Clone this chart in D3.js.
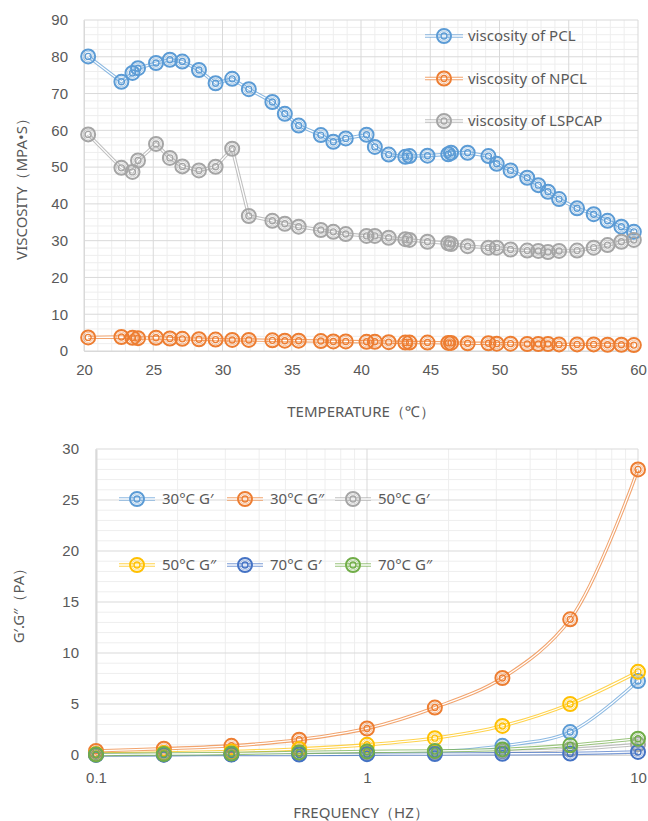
<!DOCTYPE html>
<html>
<head>
<meta charset="utf-8">
<script src="https://cdn.jsdelivr.net/npm/d3@7"></script>
<style>
	body { margin: 0; background: #fff; }
	svg { display: block; font-family: "Noto Sans", "Open Sans", sans-serif; }
	text { fill: #595959; }
</style>
</head>
<body>
<div id="chart"></div>
<script>
// top chart: viscosity vs temperature
const temps = [20.3, 22.7, 23.5, 23.9, 25.2, 26.2, 27.1, 28.3, 29.5, 30.7, 31.9, 33.6, 34.5, 35.5, 37.1, 38.0, 38.9, 40.4, 41.0, 42.0, 43.2, 43.5, 44.8, 46.3, 46.5, 47.7, 49.2, 49.8, 50.8, 52.0, 52.8, 53.5, 54.3, 55.6, 56.8, 57.8, 58.8, 59.7];
const viscPCL = [80.1, 73.2, 75.6, 76.9, 78.3, 79.2, 78.7, 76.4, 72.8, 74.0, 71.2, 67.7, 64.5, 61.3, 58.7, 56.9, 57.8, 58.8, 55.5, 53.4, 52.8, 53.0, 53.1, 53.5, 53.9, 53.9, 53.0, 50.9, 49.1, 47.1, 45.1, 43.3, 41.3, 38.8, 37.2, 35.4, 33.8, 32.4];
const viscNPCL = [3.7, 3.8, 3.6, 3.5, 3.6, 3.4, 3.3, 3.2, 3.1, 3.0, 3.0, 2.9, 2.8, 2.8, 2.7, 2.6, 2.6, 2.5, 2.5, 2.4, 2.3, 2.3, 2.3, 2.2, 2.2, 2.1, 2.1, 2.0, 2.0, 1.9, 1.9, 1.9, 1.8, 1.8, 1.8, 1.7, 1.7, 1.6];
const viscLSPCAP = [58.9, 49.8, 48.7, 51.8, 56.3, 52.5, 50.2, 49.1, 50.1, 55.0, 36.7, 35.4, 34.6, 33.8, 32.9, 32.4, 31.8, 31.3, 31.3, 30.8, 30.4, 30.2, 29.7, 29.3, 29.1, 28.5, 28.1, 28.1, 27.6, 27.3, 27.2, 26.9, 27.2, 27.3, 28.1, 28.8, 29.7, 30.2];
const topNames = ["viscosity of PCL", "viscosity of NPCL", "viscosity of LSPCAP"];
const topXTicks = [20, 25, 30, 35, 40, 45, 50, 55, 60];
const topYTicks = [0, 10, 20, 30, 40, 50, 60, 70, 80, 90];

// bottom chart: moduli vs frequency
const freqs = [0.1, 0.178, 0.316, 0.562, 1, 1.78, 3.16, 5.62, 10];
const g30p = [0.05, 0.06, 0.08, 0.1, 0.15, 0.3, 0.9, 2.25, 7.25];
const g30pp = [0.4, 0.62, 0.9, 1.5, 2.6, 4.65, 7.55, 13.3, 28.0];
const g50p = [0.03, 0.05, 0.08, 0.12, 0.2, 0.25, 0.35, 0.55, 1.05];
const g50pp = [0.1, 0.2, 0.35, 0.6, 1.0, 1.65, 2.85, 5.0, 8.15];
const g70p = [0.02, 0.03, 0.04, 0.05, 0.08, 0.1, 0.12, 0.15, 0.3];
const g70pp = [0.05, 0.1, 0.15, 0.25, 0.35, 0.4, 0.55, 0.95, 1.6];
const bottomNames = ["30°C G′", "30°C G″", "50°C G′", "50°C G″", "70°C G′", "70°C G″"];
const bottomXTicks = [0.1, 1, 10];
const bottomYTicks = [0, 5, 10, 15, 20, 25, 30];

const palette = ["#5B9BD5", "#ED7D31", "#A5A5A5", "#FFC000", "#4472C4", "#70AD47"];

const width = 648;
const height = 821;

const svg = d3.select("#chart")
	.append("svg")
	.attr("viewBox", `0 0 ${width} ${height}`)
	.attr("width", width)
	.attr("height", height);

// draws a double line like excel's compound line
const drawDouble = (layer, pathData, color) => {
	layer.append("path")
		.attr("d", pathData)
		.attr("fill", "none")
		.attr("stroke", color)
		.attr("stroke-opacity", 0.7)
		.attr("stroke-width", 3.4);
	layer.append("path")
		.attr("d", pathData)
		.attr("fill", "none")
		.attr("stroke", "#fff")
		.attr("stroke-width", 1.3);
};

// bullseye marker
const drawMarker = (layer, x, y, color) => {
	const g = layer.append("g").attr("transform", `translate(${x},${y})`);
	g.append("circle").attr("r", 7).attr("fill", "none").attr("stroke", color).attr("stroke-width", 2);
	g.append("circle").attr("r", 5).attr("fill", "none").attr("stroke", color).attr("stroke-width", 0.8).attr("stroke-opacity", 0.6);
	g.append("circle").attr("r", 3).attr("fill", "none").attr("stroke", color).attr("stroke-width", 1.4);
};

// ---------- top chart ----------
const topBox = { left: 84, right: 638, top: 20, bottom: 351 };

const xTop = d3.scaleLinear().domain([20, 60]).range([topBox.left, topBox.right]);
const yTop = d3.scaleLinear().domain([0, 90]).range([topBox.bottom, topBox.top]);

const topGrid = svg.append("g").attr("class", "grid");

// minor gridlines
topGrid.selectAll(".vminor")
	.data(d3.range(21, 60).filter((d) => d % 5 !== 0))
	.join("line")
	.attr("x1", (d) => xTop(d)).attr("x2", (d) => xTop(d))
	.attr("y1", topBox.top).attr("y2", topBox.bottom)
	.attr("stroke", "#eeeeee");
topGrid.selectAll(".hminor")
	.data(d3.range(2, 90, 2).filter((d) => d % 10 !== 0))
	.join("line")
	.attr("x1", topBox.left).attr("x2", topBox.right)
	.attr("y1", (d) => yTop(d)).attr("y2", (d) => yTop(d))
	.attr("stroke", "#eeeeee");

// major gridlines
topGrid.append("g")
	.selectAll("line")
	.data(topXTicks)
	.join("line")
	.attr("x1", (d) => xTop(d)).attr("x2", (d) => xTop(d))
	.attr("y1", topBox.top).attr("y2", topBox.bottom)
	.attr("stroke", "#d9d9d9");
topGrid.append("g")
	.selectAll("line")
	.data(topYTicks)
	.join("line")
	.attr("x1", topBox.left).attr("x2", topBox.right)
	.attr("y1", (d) => yTop(d)).attr("y2", (d) => yTop(d))
	.attr("stroke", "#d9d9d9");

// axes
svg.append("g")
	.attr("transform", `translate(0 ${topBox.bottom})`)
	.call(d3.axisBottom(xTop).tickValues(topXTicks).tickSize(0).tickPadding(13))
	.call((g) => g.select(".domain").attr("stroke", "#d9d9d9"))
	.selectAll("text")
	.attr("font-size", 15).attr("fill", "#595959");

svg.append("g")
	.attr("transform", `translate(${topBox.left} 0)`)
	.call(d3.axisLeft(yTop).tickValues(topYTicks).tickSize(0).tickPadding(16))
	.call((g) => g.select(".domain").attr("stroke", "#d9d9d9"))
	.selectAll("text")
	.attr("font-size", 15).attr("fill", "#595959");

svg.append("text")
	.attr("x", 361).attr("y", 417)
	.attr("text-anchor", "middle")
	.attr("font-size", 15)
	.text("TEMPERATURE（℃）");

svg.append("text")
	.attr("transform", `translate(27 ${(topBox.top + topBox.bottom) / 2}) rotate(-90)`)
	.attr("text-anchor", "middle")
	.attr("font-size", 15)
	.text("VISCOSITY（MPA•S）");

const topSeries = [viscPCL, viscNPCL, viscLSPCAP];
const topLine = d3.line().x((d, i) => xTop(temps[i])).y((d) => yTop(d));

const topLines = svg.append("g");
const topMarks = svg.append("g");
topSeries.forEach((values, s) => {
	const layer = topLines.append("g");
	drawDouble(layer, topLine(values), palette[s]);
	const marks = topMarks.append("g");
	values.forEach((v, i) => drawMarker(marks, xTop(temps[i]), yTop(v), palette[s]));
});

// legend
const topLegend = svg.append("g");
topNames.forEach((name, i) => {
	const y = 36 + i * 42.5;
	const row = topLegend.append("g");
	drawDouble(row, `M425,${y}H463`, palette[i]);
	drawMarker(row, 444, y, palette[i]);
	row.append("text")
		.attr("x", 468).attr("y", y)
		.attr("dy", "0.35em")
		.attr("font-size", 15)
		.text(name);
});

// ---------- bottom chart ----------
const botBox = { left: 96, right: 638, top: 449, bottom: 755 };

const xBot = d3.scaleLog().domain([0.1, 10]).range([botBox.left, botBox.right]);
const yBot = d3.scaleLinear().domain([0, 30]).range([botBox.bottom, botBox.top]);

const botGrid = svg.append("g").attr("class", "grid");
const logMinor = [0.2, 0.3, 0.4, 0.5, 0.6, 0.7, 0.8, 0.9, 2, 3, 4, 5, 6, 7, 8, 9];

botGrid.selectAll(".vminor")
	.data(logMinor)
	.join("line")
	.attr("x1", (d) => xBot(d)).attr("x2", (d) => xBot(d))
	.attr("y1", botBox.top).attr("y2", botBox.bottom)
	.attr("stroke", "#eeeeee");
botGrid.selectAll(".hminor")
	.data(d3.range(1, 30).filter((d) => d % 5 !== 0))
	.join("line")
	.attr("x1", botBox.left).attr("x2", botBox.right)
	.attr("y1", (d) => yBot(d)).attr("y2", (d) => yBot(d))
	.attr("stroke", "#eeeeee");
botGrid.append("g")
	.selectAll("line")
	.data(bottomXTicks)
	.join("line")
	.attr("x1", (d) => xBot(d)).attr("x2", (d) => xBot(d))
	.attr("y1", botBox.top).attr("y2", botBox.bottom)
	.attr("stroke", "#d9d9d9");
botGrid.append("g")
	.selectAll("line")
	.data(bottomYTicks)
	.join("line")
	.attr("x1", botBox.left).attr("x2", botBox.right)
	.attr("y1", (d) => yBot(d)).attr("y2", (d) => yBot(d))
	.attr("stroke", "#d9d9d9");

svg.append("g")
	.attr("transform", `translate(0 ${botBox.bottom})`)
	.call(d3.axisBottom(xBot).tickValues(bottomXTicks).tickFormat((d) => d).tickSize(0).tickPadding(17))
	.call((g) => g.select(".domain").attr("stroke", "#d9d9d9"))
	.selectAll("text")
	.attr("font-size", 15).attr("fill", "#595959");

svg.append("g")
	.attr("transform", `translate(${botBox.left} 0)`)
	.call(d3.axisLeft(yBot).tickValues(bottomYTicks).tickSize(0).tickPadding(17))
	.call((g) => g.select(".domain").attr("stroke", "#d9d9d9").attr("stroke-width", 2))
	.selectAll("text")
	.attr("font-size", 15).attr("fill", "#595959");

svg.append("text")
	.attr("x", 361).attr("y", 818)
	.attr("text-anchor", "middle")
	.attr("font-size", 15)
	.text("FREQUENCY（HZ）");

svg.append("text")
	.attr("transform", `translate(24 ${(botBox.top + botBox.bottom) / 2}) rotate(-90)`)
	.attr("text-anchor", "middle")
	.attr("font-size", 15)
	.text("G′.G″（PA）");

const bottomSeries = [g30p, g30pp, g50p, g50pp, g70p, g70pp];
const botLine = d3.line()
	.x((d, i) => xBot(freqs[i]))
	.y((d) => yBot(d))
	.curve(d3.curveCatmullRom.alpha(0.5));

const botLines = svg.append("g");
const botMarks = svg.append("g");
bottomSeries.forEach((values, s) => {
	drawDouble(botLines.append("g"), botLine(values), palette[s]);
	const marks = botMarks.append("g");
	values.forEach((v, i) => drawMarker(marks, xBot(freqs[i]), yBot(v), palette[s]));
});

// legend, two rows of three
const botLegend = svg.append("g");
bottomNames.forEach((name, i) => {
	const x = 137 + (i % 3) * 108;
	const y = i < 3 ? 499 : 565;
	const row = botLegend.append("g");
	drawDouble(row, `M${x - 18},${y}H${x + 18}`, palette[i]);
	drawMarker(row, x, y, palette[i]);
	row.append("text")
		.attr("x", x + 25).attr("y", y)
		.attr("dy", "0.35em")
		.attr("font-size", 15)
		.text(name);
});
</script>
</body>
</html>
